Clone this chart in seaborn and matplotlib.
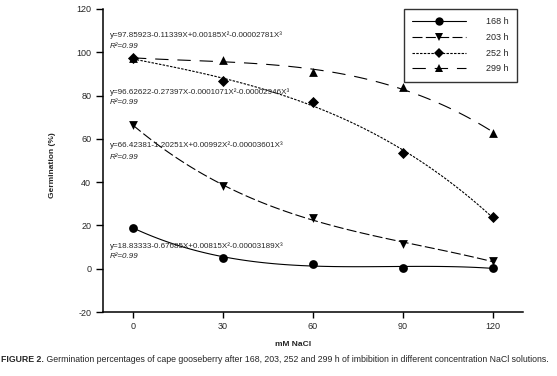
import numpy as np
import pandas as pd
import matplotlib
matplotlib.use("Agg")
import matplotlib.pyplot as plt
from matplotlib.lines import Line2D
import seaborn as sns

# ---- data ----
nacl = [0, 30, 60, 90, 120]
g168 = [19.0, 4.9, 2.2, 0.4, 0.3]
g203 = [66.5, 38.0, 23.5, 11.6, 3.4]
g252 = [97.2, 86.8, 77.0, 53.6, 23.8]
g299 = [97.2, 96.6, 90.7, 83.8, 62.9]
series_labels = ["168 h", "203 h", "252 h", "299 h"]
equations = [
    "y=97.85923-0.11339X+0.00185X²-0.00002781X³",
    "y=96.62622-0.27397X-0.0001071X²-0.00002946X³",
    "y=66.42381-1.20251X+0.00992X²-0.00003601X³",
    "y=18.83333-0.67685X+0.00815X²-0.00003189X³",
]
r2_text = "R²=0.99"
xticks = [0, 30, 60, 90, 120]
yticks = [-20, 0, 20, 40, 60, 80, 100, 120]
xlabel = "mM NaCl"
ylabel = "Germination (%)"
caption_bold = "FIGURE 2."
caption_rest = " Germination percentages of cape gooseberry after 168, 203, 252 and 299 h of imbibition in different concentration NaCl solutions."

sns.set_style("ticks")
FONT = ["Liberation Sans Narrow", "Liberation Sans", "DejaVu Sans"]
plt.rcParams["font.family"] = FONT
plt.rcParams["axes.unicode_minus"] = False

W, H = 557, 376
fig = plt.figure(figsize=(W / 100, H / 100), dpi=100)
ax = fig.add_axes([103 / W, 1 - 312 / H, (523 - 103) / W, (312 - 9) / H])

styles = [
    dict(marker="o", ls="-"),
    dict(marker="v", ls=(0, (9, 3))),
    dict(marker="D", ls=(0, (2.2, 1.2))),
    dict(marker="^", ls=(0, (12, 8))),
]
data = [g168, g203, g252, g299]
for vals, st in zip(data, styles):
    df = pd.DataFrame({"x": nacl, "y": vals})
    sns.regplot(data=df, x="x", y="y", order=3, ci=None, truncate=True, ax=ax,
                marker=st["marker"],
                scatter_kws=dict(s=40 if st["marker"] != "D" else 32, color="black",
                                 alpha=1, zorder=3, linewidths=0),
                line_kws=dict(color="black", lw=0.8, ls=st["ls"], zorder=2))

ax.set_xlim(-10, 130)
ax.set_ylim(-20, 120)
ax.set_xticks(xticks)
ax.set_yticks(yticks)
ax.set_xlabel("")
ax.set_ylabel("")
ax.tick_params(axis="both", labelsize=6.5, length=4, width=1, color="black", direction="out")
ax.tick_params(axis="y", length=5)
for s in ["left", "bottom"]:
    ax.spines[s].set_linewidth(1.1)
    ax.spines[s].set_color("black")
sns.despine(ax=ax)

# equations
eq_pos = [(35, 47), (92, 103), (145, 157), (246, 257)]
for eq, (y1, y2) in zip(equations, eq_pos):
    fig.text(110 / W, 1 - y1 / H, eq, fontsize=5.8, va="center", ha="left")
    fig.text(110 / W, 1 - y2 / H, r2_text, fontsize=5.8, va="center", ha="left", style="italic")

# legend
handles = [Line2D([], [], color="black", lw=0.8, ls=st["ls"], marker=st["marker"],
                  markersize=6 if st["marker"] != "D" else 5, markeredgewidth=0)
           for st in styles]
leg = ax.legend(handles, series_labels, loc="upper right",
                bbox_to_anchor=(517 / W, 1 - 9 / H), bbox_transform=fig.transFigure,
                fontsize=6.5, handlelength=6.0, frameon=True, fancybox=False,
                borderpad=0.9, labelspacing=0.75, handletextpad=2.2, borderaxespad=0)
leg.get_frame().set_edgecolor("black")
leg.get_frame().set_linewidth(1.0)

# axis labels
fig.text(293 / W, 1 - 344 / H, xlabel, fontsize=6, fontweight="bold", ha="center", va="center")
fig.text(53 / W, 1 - 165 / H, ylabel, fontsize=6, fontweight="bold", ha="center", va="center",
         rotation=90)

# caption
t1 = fig.text(1 / W, 1 - 360 / H, caption_bold, fontsize=6.3, fontweight="bold", ha="left", va="center")
fig.canvas.draw()
bb = t1.get_window_extent()
fig.text(bb.x1 / W, 1 - 360 / H, caption_rest, fontsize=6.3, ha="left", va="center")

fig.savefig("out.png", dpi=100)
